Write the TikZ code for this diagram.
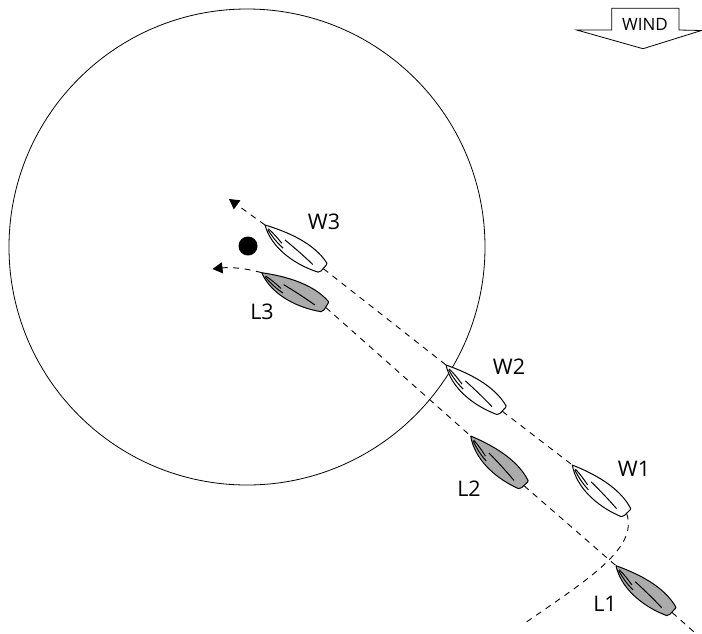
\documentclass[tikz,border=0pt]{standalone}
\usepackage{fontspec}
\setmainfont{Open Sans}
\usetikzlibrary{arrows.meta}
\definecolor{boatgray}{HTML}{ABABAB}
\tikzset{
  track/.style={dashed,dash pattern=on 6pt off 5.5pt,line width=0.9pt},
  trackarrow/.style={track,-{Triangle[length=10pt,width=11pt]}},
  lbl/.style={font=\fontsize{21.5}{21.5}\selectfont,inner sep=0pt},
  pics/boat/.style={code={
    \coordinate (-bow) at (0,0);
    \coordinate (-stern) at (73,0);
    \draw[line width=1pt,line join=round,fill=#1] (0,0)
      .. controls (22,-8) and (50,-15) .. (72.5,-6.5)
      -- (73,-5) -- (72.5,3) .. controls (72,5.5) and (70,7) .. (67.5,7)
      .. controls (45,14) and (18,14) .. (0,0) -- cycle;
    \draw[line width=1pt] (25,0) .. controls (37,0.5) and (50,1.5) .. (62,3);
    \draw[line width=1pt] (5,2) .. controls (13,5) and (20,7) .. (28.5,7.7);
    \draw[line width=1pt] (5,1) .. controls (12,1.5) and (18,3) .. (24.5,4.6);
  }}
}
\begin{document}
\begin{tikzpicture}[x=1pt,y=-1pt]
\useasboundingbox (0,0) rectangle (702,633);
\node[circle,draw,line width=0.8pt,minimum size=476pt,inner sep=0pt] (zone) at (247,247) {};
\node[circle,fill=black,minimum size=19pt,inner sep=0pt] (mark) at (248,246) {};
\pic (W3) at (265,225) [rotate=-36.8] {boat=white};
\pic (L3) at (261.7,272.7) [rotate=-28.5] {boat=boatgray};
\pic (W2) at (446,365) [rotate=-39.4] {boat=white};
\pic (L2) at (470.7,436) [rotate=-43] {boat=boatgray};
\pic (W1) at (572.3,465) [rotate=-41.8] {boat=white};
\pic (L1) at (616,565.7) [rotate=-39.8] {boat=boatgray};
\coordinate (wa) at (229,199);
\coordinate (la) at (212.5,269);
\coordinate (wend) at (525,623);
\coordinate (lend) at (694,632);
\draw[trackarrow] (W3-bow) -- (wa);
\draw[trackarrow] (L3-bow) .. controls (245,268) and (230,267) .. (la);
\draw[track] (W3-stern) -- (W2-bow);
\draw[track] (W2-stern) -- (W1-bow);
\draw[track] (L3-stern) -- (L2-bow);
\draw[track] (L2-stern) -- (L1-bow);
\draw[track] (L1-stern) -- (lend);
\draw[track] (W1-stern) .. controls (638,548) and (590,578) .. (wend);
\draw[line width=0.8pt,line join=miter] (611.7,30) -- (611.7,8.3) -- (679,8.3) -- (679,30) -- (701.5,30.5) -- (643,48.7) -- (576.7,30) -- cycle;
\node[font=\fontsize{17}{17}\selectfont,inner sep=0pt] (windlabel) at (645,24) {WIND};
\node[lbl] (tW3) at (324,222) {W3};
\node[lbl] (tL3) at (262,312) {L3};
\node[lbl] (tW2) at (509,367) {W2};
\node[lbl] (tL2) at (469,489) {L2};
\node[lbl] (tW1) at (634,469) {W1};
\node[lbl] (tL1) at (605,604) {L1};
\end{tikzpicture}
\end{document}
